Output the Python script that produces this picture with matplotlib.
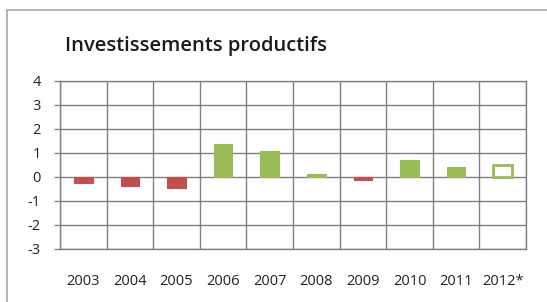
import matplotlib
matplotlib.use("Agg")
from matplotlib import pyplot as plt
from matplotlib.patches import Rectangle

# data
years = ["2003", "2004", "2005", "2006", "2007", "2008", "2009", "2010", "2011", "2012*"]
values = [-0.23, -0.37, -0.47, 1.36, 1.10, 0.12, -0.12, 0.70, 0.42, 0.48]
estimate = [False] * 9 + [True]

RED = "#c0504d"
GREEN = "#9bbb59"

W, H = 547, 302
plt.rcParams["font.family"] = ["Open Sans", "DejaVu Sans"]
plt.rcParams["axes.unicode_minus"] = False
fig = plt.figure(figsize=(W / 100, H / 100), dpi=100)

# outer chart border (cropped on right/bottom like the reference)
fig.patches.append(Rectangle((7 / W, -0.05), 1.1, (302 - 10) / H + 0.05,
                             transform=fig.transFigure, fill=False,
                             edgecolor="#a6a6a6", linewidth=1.2))

ax = fig.add_axes([60 / W, (H - 249) / H, (526 - 60) / W, (249 - 81) / H])

x = list(range(len(years)))
for i, v in enumerate(values):
    col = GREEN if v >= 0 else RED
    if estimate[i]:
        ax.bar(i, v, width=0.4, facecolor="white", edgecolor=col, linewidth=2, zorder=3)
    else:
        ax.bar(i, v, width=0.4, color=col, edgecolor=col, linewidth=0.8, zorder=3)

ax.set_xlim(-0.5, len(years) - 0.5)
ax.set_ylim(-3, 4)
ax.set_yticks(range(-3, 5))
ax.set_xticks(x)
ax.set_xticklabels(years)
ax.set_xticks([i - 0.5 for i in range(len(years) + 1)], minor=True)

ax.grid(True, which="major", axis="y", color="#808080", linewidth=1, zorder=1)
ax.grid(True, which="minor", axis="x", color="#808080", linewidth=1, zorder=1)
for s in ax.spines.values():
    s.set_color("#808080")
    s.set_linewidth(1)

ax.tick_params(axis="x", which="both", length=0, pad=18, labelsize=10.5, colors="#222222")
ax.tick_params(axis="y", length=4, width=1, color="#808080", pad=10, labelsize=10.5,
               labelcolor="#222222")

fig.text(65 / W, 1 - 46 / H, "Investissements productifs", fontsize=14.5,
         fontweight="semibold", color="#1a1a1a", va="center", ha="left")

fig.savefig("out.png", dpi=100)
